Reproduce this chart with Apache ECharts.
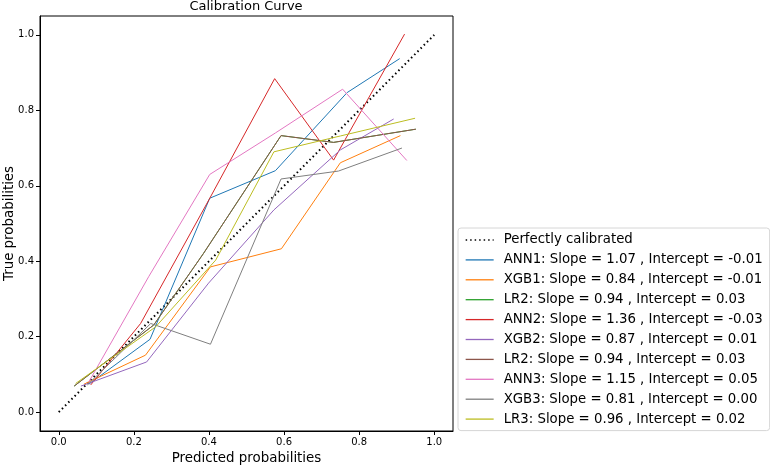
<!DOCTYPE html>
<html>
<head>
<meta charset="utf-8">
<script src="https://cdn.jsdelivr.net/npm/echarts@6/dist/echarts.min.js"></script>
<style>
  html, body { margin: 0; padding: 0; background: #fff; }
  #chart { width: 770px; height: 465px; }
</style>
</head>
<body>
<div id="chart"></div>
<script>
(function(){

// tick values on both axes
var ticks = [0.0, 0.2, 0.4, 0.6, 0.8, 1.0];

// reference diagonal
var perfect = [[0, 0], [1, 1]];

// calibration points: [mean predicted, fraction positive]
var ann1 = [[0.08, 0.074], [0.243, 0.193], [0.402, 0.567], [0.577, 0.640], [0.768, 0.847], [0.908, 0.937]];
var xgb1 = [[0.067, 0.074], [0.231, 0.151], [0.404, 0.385], [0.593, 0.433], [0.750, 0.661], [0.910, 0.733]];
var lr2a = [[0.041, 0.069], [0.253, 0.231], [0.385, 0.42], [0.592, 0.733], [0.732, 0.715], [0.951, 0.750]];
var ann2 = [[0.085, 0.072], [0.218, 0.235], [0.400, 0.563], [0.575, 0.884], [0.732, 0.668], [0.921, 1.002]];
var xgb2 = [[0.059, 0.069], [0.234, 0.133], [0.399, 0.342], [0.573, 0.536], [0.750, 0.695], [0.892, 0.777]];
var lr2b = [[0.041, 0.069], [0.253, 0.231], [0.385, 0.42], [0.592, 0.733], [0.732, 0.715], [0.951, 0.750]];
var ann3 = [[0.08, 0.08], [0.24, 0.36], [0.402, 0.630], [0.577, 0.74], [0.756, 0.856], [0.927, 0.667]];
var xgb3 = [[0.076, 0.072], [0.245, 0.235], [0.404, 0.180], [0.592, 0.618], [0.745, 0.639], [0.914, 0.700]];
var lr3 = [[0.045, 0.076], [0.258, 0.226], [0.418, 0.403], [0.573, 0.690], [0.750, 0.732], [0.949, 0.779]];

var names = [
	'Perfectly calibrated',
	'ANN1: Slope = 1.07 , Intercept = -0.01',
	'XGB1: Slope = 0.84 , Intercept = -0.01',
	'LR2: Slope = 0.94 , Intercept = 0.03',
	'ANN2: Slope = 1.36 , Intercept = -0.03',
	'XGB2: Slope = 0.87 , Intercept = 0.01',
	'LR2: Slope = 0.94 , Intercept = 0.03 ',
	'ANN3: Slope = 1.15 , Intercept = 0.05',
	'XGB3: Slope = 0.81 , Intercept = 0.00',
	'LR3: Slope = 0.96 , Intercept = 0.02'
];
var curves = [perfect, ann1, xgb1, lr2a, ann2, xgb2, lr2b, ann3, xgb3, lr3];
var colors = ['#000000', '#1f77b4', '#ff7f0e', '#2ca02c', '#d62728', '#9467bd', '#8c564b', '#e377c2', '#7f7f7f', '#bcbd22'];

var font = 'DejaVu Sans';

function axis(name, gap) {
	return {
		type: 'value',
		min: -0.05,
		max: 1.05,
		name: name,
		nameLocation: 'middle',
		nameGap: gap,
		nameMoveOverlap: false,
		nameTextStyle: { fontFamily: font, fontSize: 13.4, color: '#000' },
		axisLine: { show: true, onZero: false, lineStyle: { color: '#000', width: 1 } },
		axisTick: { show: true, length: 4, customValues: ticks, lineStyle: { color: '#000' } },
		axisLabel: {
			customValues: ticks,
			fontFamily: font, fontSize: 10, color: '#000', margin: 6,
			formatter: function(v){ return v.toFixed(1); }
		},
		splitLine: { show: false }
	};
}

var series = curves.map(function(d, i){
	return {
		type: 'line',
		name: names[i],
		data: d,
		symbol: 'none',
		silent: true,
		lineStyle: i == 0 ?
			{ color: colors[i], width: 2, type: [1.5, 3] } :
			{ color: colors[i], width: 1 },
		itemStyle: { color: colors[i] }
	};
});

var chart = echarts.init(document.getElementById('chart'));
chart.setOption({
	animation: false,
	title: {
		text: 'Calibration Curve',
		left: 246, top: 0, textAlign: 'center', padding: 0,
		textStyle: { fontFamily: font, fontSize: 13, fontWeight: 'normal', color: '#000' }
	},
	grid: {
		left: 40, right: 317, top: 16, bottom: 34,
		outerBoundsMode: 'none', containLabel: false,
		show: true, borderColor: '#000', borderWidth: 1
	},
	xAxis: axis('Predicted probabilities', 21),
	yAxis: axis('True probabilities', 24),
	legend: {
		orient: 'vertical',
		left: 458, top: 228,
		padding: [5.5, 7, 5, 7],
		itemWidth: 28, itemHeight: 13, itemGap: 6.9,
		itemStyle: { opacity: 0 },
		lineStyle: { width: 1.3 },
		borderColor: '#d6d6d6', borderWidth: 1, borderRadius: 3,
		textStyle: { fontFamily: font, fontSize: 13.3, color: '#000', padding: [0, 0, 0, 5] },
		data: names
	},
	series: series
});

})()
</script>
</body>
</html>
